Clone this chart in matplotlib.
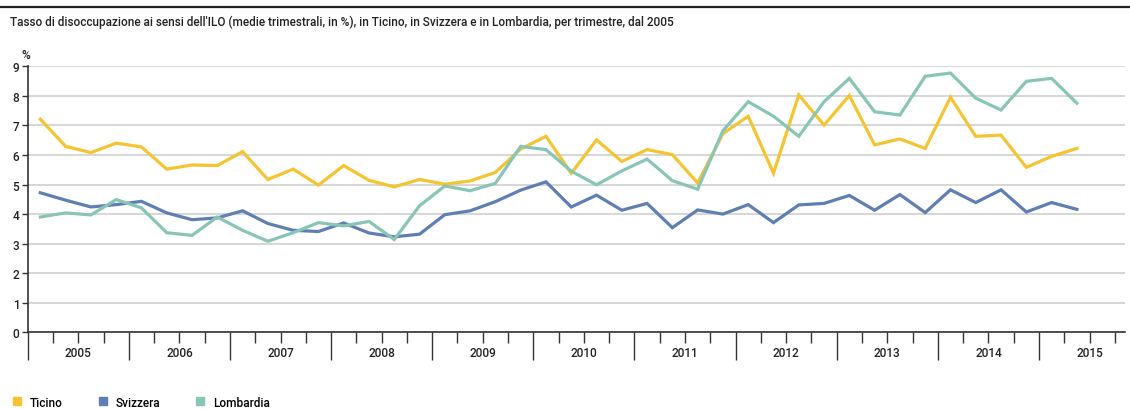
import numpy as np
import matplotlib.pyplot as plt
from matplotlib.lines import Line2D
from matplotlib.transforms import blended_transform_factory

plt.rcParams['font.family'] = ['Roboto', 'DejaVu Sans']

# quarterly values, 2005 Q1 .. 2015 Q2
ticino = [7.21, 6.29, 6.08, 6.40, 6.27, 5.52, 5.66, 5.64, 6.11, 5.17, 5.52, 4.98,
          5.64, 5.14, 4.92, 5.17, 5.01, 5.12, 5.41, 6.20, 6.63, 5.38, 6.51, 5.78,
          6.18, 6.01, 5.05, 6.72, 7.31, 5.38, 8.03, 7.01, 8.01, 6.34, 6.54, 6.22,
          7.95, 6.63, 6.67, 5.58, 5.95, 6.22]
svizzera = [4.72, 4.47, 4.24, 4.32, 4.43, 4.04, 3.81, 3.87, 4.11, 3.68, 3.45, 3.41,
            3.70, 3.36, 3.23, 3.32, 3.98, 4.11, 4.42, 4.81, 5.09, 4.24, 4.64, 4.13,
            4.36, 3.54, 4.14, 4.00, 4.32, 3.71, 4.31, 4.36, 4.63, 4.13, 4.66, 4.05,
            4.82, 4.39, 4.82, 4.07, 4.39, 4.16]
lombardia = [3.90, 4.04, 3.97, 4.49, 4.21, 3.37, 3.28, 3.90, 3.45, 3.08, 3.37, 3.71,
             3.60, 3.75, 3.14, 4.28, 4.95, 4.79, 5.04, 6.29, 6.18, 5.45, 4.99, 5.46,
             5.86, 5.13, 4.84, 6.82, 7.80, 7.31, 6.63, 7.80, 8.59, 7.46, 7.35, 8.66,
             8.77, 7.92, 7.52, 8.49, 8.59, 7.75]
years = [str(y) for y in range(2005, 2016)]
series_names = ['Ticino', 'Svizzera', 'Lombardia']
colors = ['#f4c431', '#5f7fb3', '#88c5b6']

title = ("Tasso di disoccupazione ai sensi dell'ILO (medie trimestrali, in %), "
         "in Ticino, in Svizzera e in Lombardia, per trimestre, dal 2005")

txt = '#222222'
fig = plt.figure(figsize=(11.3, 4.1), dpi=100)
ax = fig.add_axes([0.0245, 0.187, 0.971, 0.649])

x = np.arange(len(ticino)) + 0.5  # quarter midpoints
for vals, c in zip([ticino, svizzera, lombardia], colors):
    ax.plot(x, vals, color=c, lw=2.3, solid_joinstyle='miter', zorder=3)

ax.set_xlim(0, 43.4)
ax.set_ylim(0, 9)
ax.set_yticks(range(10))
ax.tick_params(axis='y', length=4, width=1, color='#333333', labelsize=8.5,
               labelcolor=txt, pad=2)
for lab in ax.get_yticklabels():
    lab.set_fontweight('medium')
ax.grid(axis='y', color='#d0d0d0', lw=1.2)
ax.set_axisbelow(True)

# year boundaries (long ticks) and quarter ticks (short)
ax.set_xticks(range(0, 44, 4))
ax.set_xticklabels([])
ax.set_xticks(range(0, 44), minor=True)
ax.tick_params(axis='x', which='major', length=20, width=1, color='#333333')
ax.tick_params(axis='x', which='minor', length=8, width=1, color='#333333')

trans = blended_transform_factory(ax.transData, ax.transAxes)
for k, yr in enumerate(years):
    ax.text(4 * k + 2, -0.075, yr, transform=trans, ha='center', va='center',
            fontsize=8.5, fontweight='medium', color=txt)

for s in ['top', 'right']:
    ax.spines[s].set_visible(False)
for s in ['left', 'bottom']:
    ax.spines[s].set_color('#333333')
    ax.spines[s].set_linewidth(1.2)

ax.text(-0.006, 1.045, '%', transform=ax.transAxes, ha='left', va='center',
        fontsize=8.5, fontweight='medium', color=txt)

# top rule and title
fig.add_artist(Line2D([0, 1], [0.981, 0.981], color='#222222', lw=1.6))
fig.text(0.009, 0.945, title, ha='left', va='center', fontsize=8.5,
         fontweight='medium', color=txt)

handles = [Line2D([], [], marker='s', ls='none', color=c, markersize=6)
           for c in colors]
fig.legend(handles, series_names, loc='lower left', bbox_to_anchor=(0.0, -0.025),
           ncol=3, frameon=False, handletextpad=0.6,
           columnspacing=2.9, handlelength=1.0,
           prop={'weight': 'medium', 'size': 8.5})

fig.savefig('out.png', dpi=100)
